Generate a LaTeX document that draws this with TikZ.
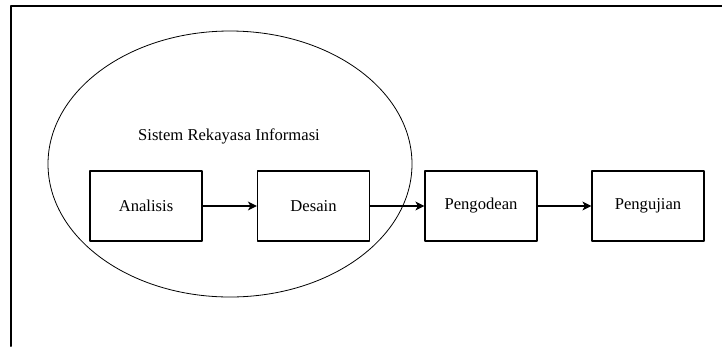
\documentclass[tikz,border=0pt]{standalone}
\usepackage{fontspec}
\setmainfont{Liberation Serif}
\usetikzlibrary{arrows.meta}

\begin{document}
\begin{tikzpicture}[line cap=round,line join=round,>={Stealth[length=9pt,width=9pt,inset=2.5pt]},x=1pt,y=-1pt,
    tahap/.style={draw,line width=1.2pt,minimum width=112pt,minimum height=70pt,inner sep=0pt,font=\fontsize{16.6}{20}\selectfont},
    panah/.style={->,line width=1.2pt}]
                \useasboundingbox (0,0) rectangle (722,346);
                % bingkai
                \draw [line width=2pt] (11,346)-- (11,6)-- (722,6);
                % sistem rekayasa informasi
                \draw [line width=0.8pt] (230,164) ellipse [x radius=182,y radius=133];
                \node [font=\fontsize{16.6}{20}\selectfont] (judul) at (229,136) {Sistem Rekayasa Informasi};
                % tahapan
                \node [tahap] (analisis) at (146,206) {Analisis};
                \node [tahap] (desain) at (313.5,206) {Desain};
                \node [tahap] (pengodean) at (481,206) {Pengodean};
                \node [tahap] (pengujian) at (648,206) {Pengujian};
                \draw [panah] (analisis)-- (desain);
                \draw [panah] (desain)-- (pengodean);
                \draw [panah] (pengodean)-- (pengujian);
            \end{tikzpicture}
\end{document}
